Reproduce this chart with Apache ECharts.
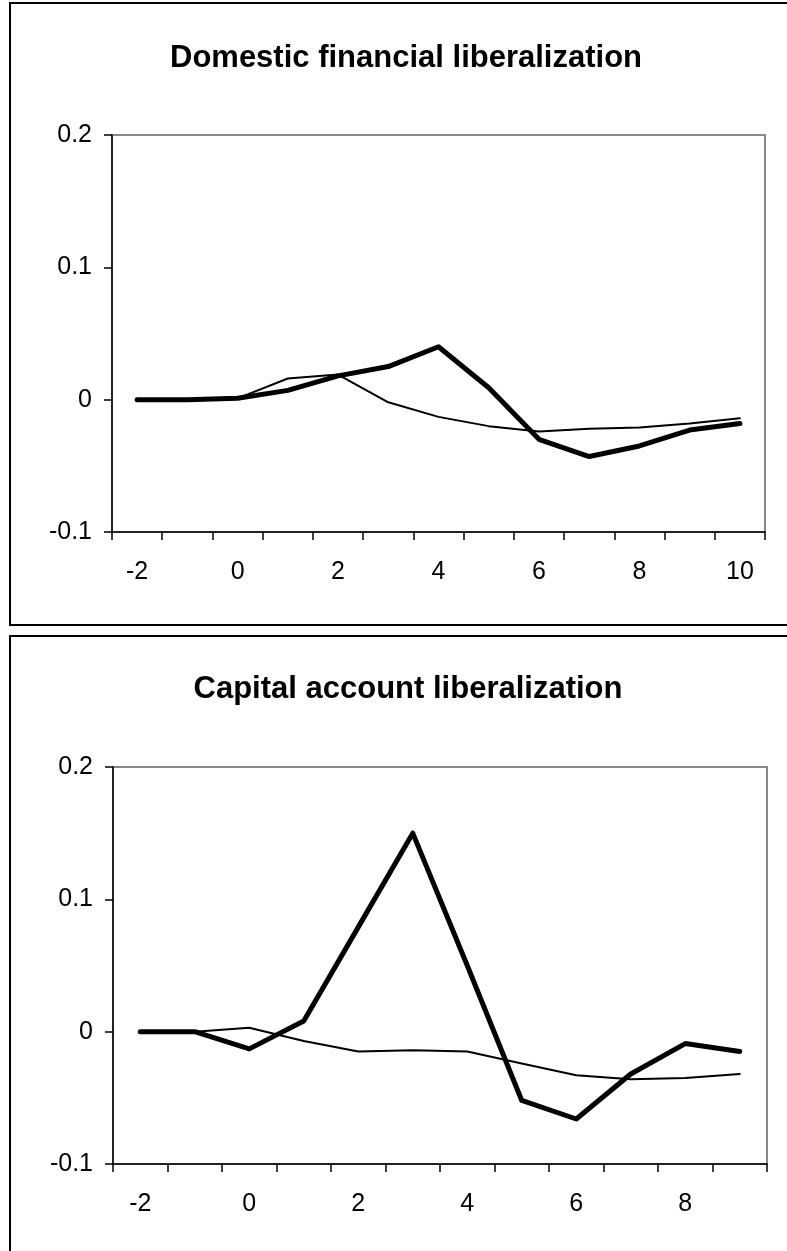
<!DOCTYPE html>
<html>
<head>
<meta charset="utf-8">
<script src="https://cdn.jsdelivr.net/npm/echarts@6/dist/echarts.min.js"></script>
<style>
  html, body { margin: 0; padding: 0; background: #fff; }
  #Chart { width: 787px; height: 1251px; }
</style>
</head>
<body>
<div id="Chart"></div>
<script>
// panel 1: domestic financial liberalization (years -2..10)
var domYears = ['-2', '-1', '0', '1', '2', '3', '4', '5', '6', '7', '8', '9', '10'];
var domThick = [0, 0, 0.001, 0.007, 0.018, 0.025, 0.040, 0.009, -0.030, -0.043, -0.035, -0.023, -0.018];
var domThin = [0, 0, 0.001, 0.016, 0.019, -0.002, -0.013, -0.020, -0.024, -0.022, -0.021, -0.018, -0.014];

// panel 2: capital account liberalization (years -2..9)
var capYears = ['-2', '-1', '0', '1', '2', '3', '4', '5', '6', '7', '8', '9'];
var capThick = [0, 0, -0.013, 0.008, 0.079, 0.150, 0.050, -0.052, -0.066, -0.032, -0.009, -0.015];
var capThin = [0, 0, 0.003, -0.007, -0.015, -0.014, -0.015, -0.024, -0.033, -0.036, -0.035, -0.032];

var titles = ['Domestic financial liberalization', 'Capital account liberalization'];

var FONT = "'Liberation Sans', Arial, sans-serif";

function xAxisFor(idx, cats) {
  return {
    type: 'category',
    gridIndex: idx,
    data: cats,
    boundaryGap: true,
    axisLine: { onZero: false, lineStyle: { color: '#000', width: 1.5 } },
    axisTick: { show: true, interval: 0, length: 8, lineStyle: { color: '#000', width: 1.5 } },
    axisLabel: { interval: 1, color: '#000', fontSize: 25, fontFamily: FONT, margin: 28 },
    splitLine: { show: false }
  }
}

function yAxisFor(idx) {
  return {
    type: 'value',
    gridIndex: idx,
    min: -0.1,
    max: 0.2,
    interval: 0.1,
    axisLine: { show: true, onZero: false, lineStyle: { color: '#000', width: 1.5 } },
    axisTick: { show: true, length: 8, lineStyle: { color: '#000', width: 1.5 } },
    axisLabel: { color: '#000', fontSize: 25, fontFamily: FONT, margin: 20 },
    splitLine: { show: false }
  }
}

function lineSeries(idx, data, width) {
  return {
    type: 'line',
    xAxisIndex: idx,
    yAxisIndex: idx,
    data: data,
    symbol: 'none',
    lineStyle: { color: '#000', width: width, cap: 'round', join: 'round' },
    z: width > 3 ? 3 : 2
  }
}

var myChart = echarts.init(document.getElementById('Chart'));
var option = {
  animation: false,
  backgroundColor: '#fff',
  title: [{
    text: titles[0], left: 401, top: 38, textAlign: 'center',
    textStyle: { fontSize: 31, fontWeight: 'bold', color: '#000', fontFamily: FONT }
  }, {
    text: titles[1], left: 403, top: 669, textAlign: 'center',
    textStyle: { fontSize: 31, fontWeight: 'bold', color: '#000', fontFamily: FONT }
  }],
  grid: [
    { left: 112, top: 135, width: 653, height: 397, show: true, borderColor: '#888', borderWidth: 2 },
    { left: 113, top: 767, width: 654, height: 397, show: true, borderColor: '#888', borderWidth: 2 }
  ],
  xAxis: [xAxisFor(0, domYears), xAxisFor(1, capYears)],
  yAxis: [yAxisFor(0), yAxisFor(1)],
  series: [
    lineSeries(0, domThin, 2),
    lineSeries(0, domThick, 5),
    lineSeries(1, capThin, 2),
    lineSeries(1, capThick, 5)
  ],
  graphic: [{
    type: 'polyline',
    shape: { points: [[800, 3], [10, 3], [10, 625], [800, 625]] },
    style: { stroke: '#000', lineWidth: 2, fill: null }
  }, {
    type: 'polyline',
    shape: { points: [[800, 636], [10, 636], [10, 1260]] },
    style: { stroke: '#000', lineWidth: 2, fill: null }
  }]
};
myChart.setOption(option);
window.addEventListener('resize', function () {
  myChart.resize()
})
</script>
</body>
</html>
